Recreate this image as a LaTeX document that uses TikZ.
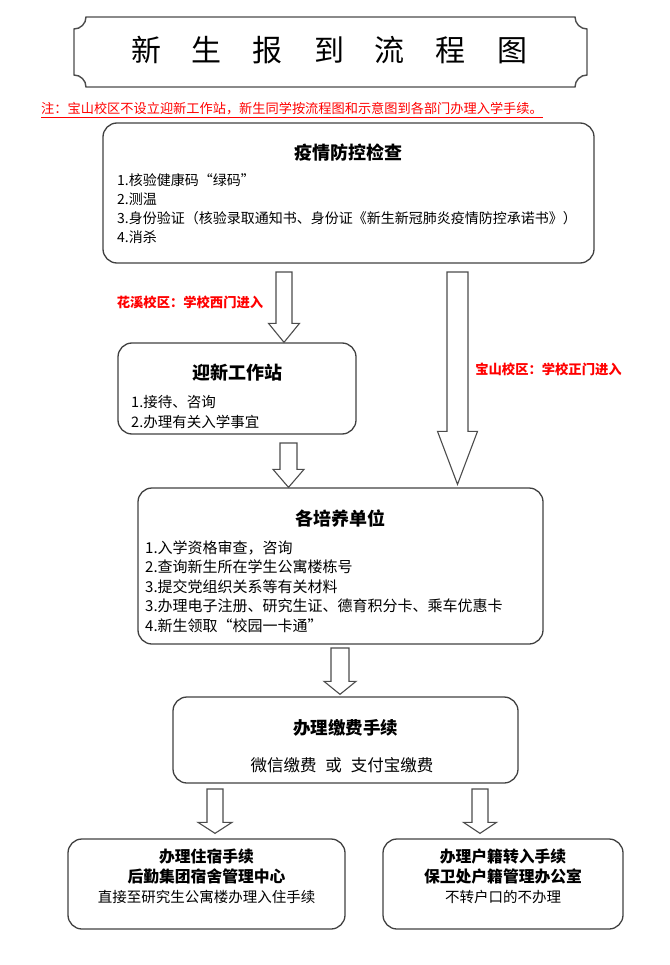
\documentclass[tikz,border=0pt]{standalone}
\usepackage{fontspec}
\setmainfont{Noto Sans CJK SC}
\usetikzlibrary{positioning,calc}

\tikzset{
  stagebox/.style={draw=black!75, line width=1.3pt, rounded corners=14pt, inner sep=0pt},
  headline/.style={font=\fontsize{18}{22}\selectfont\bfseries, inner sep=0pt},
  itemlist/.style={anchor=north west, align=left, inner sep=0pt},
  blockline/.style={draw=black!70, line width=1.1pt, fill=white, line join=miter},
  redtag/.style={text=red, font=\fontsize{13.3}{16}\selectfont\bfseries, inner sep=0pt},
}

% hollow block arrow: start, tip, shaft half width, head half width, head length
\newcommand{\blockarrow}[5]{%
  \draw[blockline] let \p1=(#1), \p2=(#2) in
    (\x1-#3pt,\y1) -- (\x1+#3pt,\y1) -- (\x1+#3pt,\y2+#5pt) -- (\x1+#4pt,\y2+#5pt)
    -- (\x1,\y2) -- (\x1-#4pt,\y2+#5pt) -- (\x1-#3pt,\y2+#5pt) -- cycle;}
\newcommand{\tgap}{\hspace{31pt}}

\begin{document}
\begin{tikzpicture}[x=1pt, y=1pt]
  \useasboundingbox (0,0) rectangle (669,-965);

  % title banner
  \draw[draw=black!70, line width=1.4pt] (86,-17) -- (575,-17)
    arc[start angle=180, end angle=270, radius=12] -- (587,-75)
    arc[start angle=90, end angle=180, radius=12] -- (86,-87)
    arc[start angle=0, end angle=90, radius=12] -- (74,-29)
    arc[start angle=270, end angle=360, radius=12] -- cycle;
  \node[font=\fontsize{30}{34}\selectfont, inner sep=0pt] (title) at (329,-50)
    {新\tgap 生\tgap 报\tgap 到\tgap 流\tgap 程\tgap 图};

  % note
  \node[anchor=west, text=red, font=\fontsize{13.2}{16}\selectfont, inner sep=0pt] (note) at (41,-110)
    {\underline{注：宝山校区不设立迎新工作站，新生同学按流程图和示意图到各部门办理入学手续。}};

  % epidemic check
  \node[stagebox, minimum width=491pt, minimum height=140pt] (check) at (348.5,-193) {};
  \node[headline] (checktitle) at (348.5,-153) {疫情防控检查};
  \node[itemlist, font=\fontsize{14}{19}\selectfont] (checkitems) at (117,-173)
    {1.核验健康码“绿码”\\2.测温\\3.身份验证（核验录取通知书、身份证《新生新冠肺炎疫情防控承诺书》）\\4.消杀};

  % welcome station
  \node[stagebox, minimum width=238pt, minimum height=91pt] (station) at (237,-388.5) {};
  \node[headline] (stationtitle) at (237,-373) {迎新工作站};
  \node[itemlist, font=\fontsize{14.5}{20}\selectfont] (stationitems) at (131,-395)
    {1.接待、咨询\\2.办理有关入学事宜};

  % training units
  \node[stagebox, minimum width=405pt, minimum height=156pt] (units) at (340.5,-566) {};
  \node[headline] (unitstitle) at (340.5,-519) {各培养单位};
  \node[itemlist, font=\fontsize{15}{19.5}\selectfont] (unitsitems) at (145,-540.5)
    {1.入学资格审查，咨询\\2.查询新生所在学生公寓楼栋号\\3.提交党组织关系等有关材料\\3.办理电子注册、研究生证、德育积分卡、乘车优惠卡\\4.新生领取“校园一卡通”};

  % fees
  \node[stagebox, minimum width=345pt, minimum height=86pt] (fee) at (345.5,-740) {};
  \node[headline, font=\fontsize{17.5}{22}\selectfont\bfseries] (feetitle) at (345.5,-728) {办理缴费手续};
  \node[font=\fontsize{16.5}{20}\selectfont, inner sep=0pt] (feeways) at (342,-765)
    {微信缴费\hspace{9pt}或\hspace{9pt}支付宝缴费};

  % dormitory and household registration
  \node[stagebox, minimum width=277pt, minimum height=90pt] (dorm) at (206.5,-884) {};
  \node[anchor=north, align=center, inner sep=0pt, font=\fontsize{15.8}{20}\selectfont] (dormtext) at (206.5,-849)
    {\bfseries 办理住宿手续\\\bfseries 后勤集团宿舍管理中心\\{\fontsize{14.5}{20}\selectfont 直接至研究生公寓楼办理入住手续}};
  \node[stagebox, minimum width=240pt, minimum height=90pt] (hukou) at (503,-884) {};
  \node[anchor=north, align=center, inner sep=0pt, font=\fontsize{15.8}{20}\selectfont] (hukoutext) at (503,-849)
    {\bfseries 办理户籍转入手续\\\bfseries 保卫处户籍管理办公室\\{\fontsize{14.5}{20}\selectfont 不转户口的不办理}};

  % arrows
  \coordinate (westin) at (284,-272);
  \coordinate (mainin) at (457.5,-272);
  \coordinate (stationout) at (288.5,-443);
  \coordinate (unitsout) at (340,-648);
  \coordinate (dormin) at (215,-789);
  \coordinate (hukouin) at (480,-789);
  \blockarrow{westin}{westin |- station.north}{8}{15.5}{19}
  \blockarrow{mainin}{$(mainin |- units.north)+(0,3)$}{10.5}{20}{53}
  \blockarrow{stationout}{stationout |- units.north}{8.5}{15.5}{18}
  \blockarrow{unitsout}{$(unitsout |- fee.north)+(0,2)$}{9}{16}{13}
  \blockarrow{dormin}{$(dormin |- dorm.north)+(0,5)$}{8}{17}{11}
  \blockarrow{hukouin}{$(hukouin |- hukou.north)+(0,5)$}{8}{16.5}{11}

  % gate labels
  \node[redtag] (westgate) at (190,-302) {花溪校区：学校西门进入};
  \node[redtag] (maingate) at (548.5,-369) {宝山校区：学校正门进入};
\end{tikzpicture}
\end{document}
